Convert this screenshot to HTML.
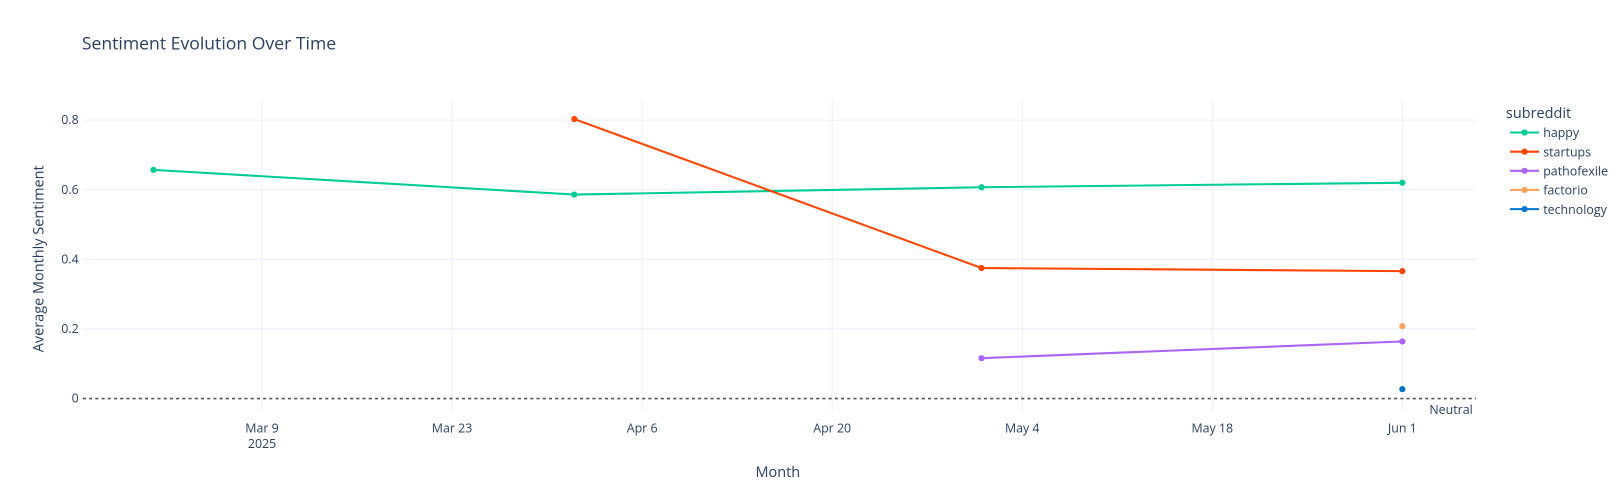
<!DOCTYPE html>
<html><head><meta charset="utf-8"><style>
body{margin:0;background:#fff;overflow:hidden;}
svg{display:block;}
svg text{font-family:"Open Sans","Liberation Sans",sans-serif;fill:#2a3f5f;}
</style></head><body>
<svg id="chart" width="1624" height="500" viewBox="0 0 1568 483" preserveAspectRatio="none" xmlns="http://www.w3.org/2000/svg">
<text x="79" y="48" font-size="17">Sentiment Evolution Over Time</text>
<g id="grid"></g>
<g id="axes"></g>
<g id="series"></g>
<text x="751" y="461" font-size="14" text-anchor="middle">Month</text>
<text transform="translate(42,250) rotate(-90)" font-size="14" text-anchor="middle">Average Monthly Sentiment</text>
<text x="1422" y="400" font-size="12" text-anchor="end">Neutral</text>
<g id="legend">
<text x="1454" y="114" font-size="14">subreddit</text>
</g>
</svg>
<script>
const NS="http://www.w3.org/2000/svg";
const seriesNames=["happy","startups","pathofexile","factorio","technology"];
const seriesColors=["#00cc96","#ff4500","#ab63fa","#ffa15a","#0072ce"];
const happyDays=[60,91,121,152];
const happyVals=[0.657,0.586,0.607,0.620];
const startupsDays=[91,121,152];
const startupsVals=[0.803,0.375,0.366];
const poeDays=[121,152];
const poeVals=[0.116,0.164];
const factorioDays=[152];
const factorioVals=[0.208];
const techDays=[152];
const techVals=[0.027];
const xTickDays=[68,82,96,110,124,138,152];
const xTickLabels=["Mar 9","Mar 23","Apr 6","Apr 20","May 4","May 18","Jun 1"];
const yTicks=[0,0.2,0.4,0.6,0.8];
const yTickLabels=["0","0.2","0.4","0.6","0.8"];
const X=d=>253+(d-68)*13.107;
const Y=v=>385-v*336.25;
const L=80,R=1425,T=97,B=397;
function mk(tag,attrs,parent){const e=document.createElementNS(NS,tag);for(const k in attrs)e.setAttribute(k,attrs[k]);parent.appendChild(e);return e;}
const grid=document.getElementById('grid'),axes=document.getElementById('axes'),ser=document.getElementById('series'),leg=document.getElementById('legend');
yTicks.forEach((v,i)=>{
 if(v!==0){const g=mk('line',{x1:L,x2:R,y1:Y(v),y2:Y(v),stroke:'#ebf0f8','stroke-width':1},grid);
 
 }
 const t=mk('text',{x:76,y:Y(v)+4,'font-size':12,'text-anchor':'end'},axes);t.textContent=yTickLabels[i];
 
 
});
xTickDays.forEach((d,i)=>{
 const g=mk('line',{x1:X(d),x2:X(d),y1:T,y2:B,stroke:'#ebf0f8','stroke-width':1},grid);
 
 
 const t=mk('text',{x:X(d),y:418,'font-size':12,'text-anchor':'middle'},axes);t.textContent=xTickLabels[i];
 
 
});
const yr=mk('text',{x:X(68),y:433,'font-size':12,'text-anchor':'middle'},axes);yr.textContent="2025";


const zl=mk('line',{x1:L,x2:R,y1:Y(0),y2:Y(0),stroke:'#555','stroke-width':1.5,'stroke-dasharray':'3,3'},axes);


const data=[[happyDays,happyVals],[startupsDays,startupsVals],[poeDays,poeVals],[factorioDays,factorioVals],[techDays,techVals]];
data.forEach((s,i)=>{
 const [ds,vs]=s;const c=seriesColors[i];
 if(ds.length>1){const p=mk('polyline',{points:ds.map((d,j)=>X(d)+','+Y(vs[j])).join(' '),fill:'none',stroke:c,'stroke-width':2},ser);
 
 }
 ds.forEach((d,j)=>{const m=mk('circle',{cx:X(d),cy:Y(vs[j]),r:3,fill:c},ser);
 
 });
 const y=128+i*18.5;
 const g=mk('g',{},leg);
 
 
 mk('line',{x1:1458,x2:1486,y1:y,y2:y,stroke:c,'stroke-width':2},g);
 mk('circle',{cx:1472,cy:y,r:3,fill:c},g);
 const t=mk('text',{x:1490,y:y+4.5,'font-size':12},g);t.textContent=seriesNames[i];
});
</script>
</body></html>
